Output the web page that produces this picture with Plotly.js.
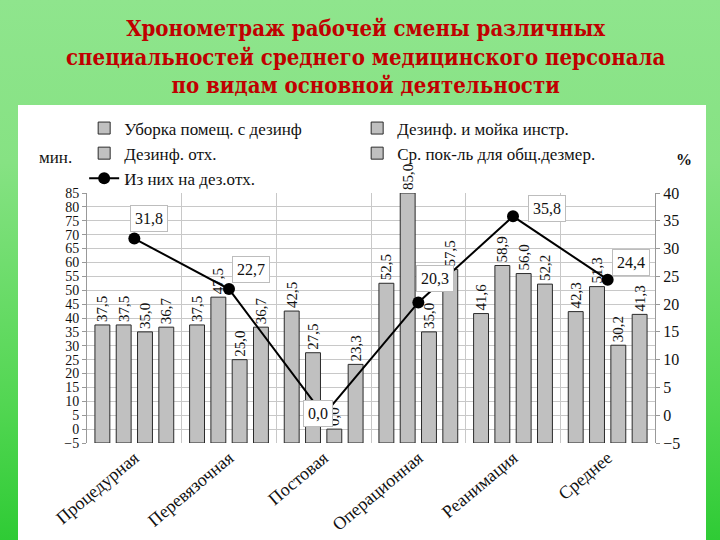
<!DOCTYPE html>
<html>
<head>
<meta charset="utf-8">
<script src="https://cdn.plot.ly/plotly-3.0.1.min.js"></script>
<style>
  html, body { margin: 0; padding: 0; width: 720px; height: 540px; overflow: hidden; }
  body { background: linear-gradient(to bottom, #8fe58d 0%, #86e283 30%, #52d652 75%, #2fcb35 100%); position: relative; }
  #panel { position: absolute; left: 18px; top: 105px; width: 688px; height: 435px; background: #fff; }
  #chart { position: absolute; left: 0; top: 0; width: 720px; height: 540px; }
</style>
</head>
<body>
<div id="panel"></div>
<div id="chart"></div>
<script>
var categories = ['Процедурная', 'Перевязочная', 'Постовая', 'Операционная', 'Реанимация', 'Среднее']
var seriesNames = ['Уборка помещ. с дезинф', 'Дезинф. и мойка инстр.', 'Дезинф. отх.', 'Ср. пок-ль для общ.дезмер.']
var uborka = [37.5, 37.5, 42.5, 52.5, 41.6, 42.3]
var moika = [37.5, 47.5, 27.5, 85.0, 58.9, 51.3]
var othody = [35.0, 25.0, 0.0, 35.0, 56.0, 30.2]
var srednee = [36.7, 36.7, 23.3, 57.5, 52.2, 41.3]
var lineName = 'Из них на дез.отх.'
var linePct = [31.8, 22.7, 0.0, 20.3, 35.8, 24.4]
var titleLines = ['Хронометраж рабочей смены различных', 'специальностей среднего медицинского персонала', 'по видам основной деятельности']

var serif = 'Liberation Serif, Times New Roman, serif'
var baseLine = -5   // bars in the original start from the bottom of the axis

function fmt(v) {
    return v.toFixed(1).replace('.', ',')
}

var data = []
var barSeries = [uborka, moika, othody, srednee]
barSeries.forEach(function (vals, i) {
    data.push({
        type: 'bar',
        name: seriesNames[i],
        x: categories,
        y: vals.map(function (v) { return v - baseLine }),
        base: baseLine,
        text: vals.map(fmt),
        textposition: 'outside',
        textangle: -90,
        constraintext: 'none',
        cliponaxis: false,
        outsidetextfont: {family: serif, size: 15, color: '#111'},
        marker: {color: '#c0c0c0', line: {color: '#2a2a2a', width: 1}}
    })
})

data.push({
    type: 'scatter',
    mode: 'lines+markers',
    name: lineName,
    x: categories,
    y: linePct,
    yaxis: 'y2',
    line: {color: '#000', width: 2},
    marker: {color: '#000', size: 12},
    cliponaxis: false
})

// boxed labels next to the line points
var shifts = [[15, 20], [22, 20], [-6, 2], [17, 24], [34, 8], [23, 17]]
var annotations = linePct.map(function (p, i) {
    return {
        x: categories[i], y: p, xref: 'x', yref: 'y2',
        text: fmt(p), showarrow: false,
        xshift: shifts[i][0], yshift: shifts[i][1],
        bgcolor: '#fff', bordercolor: '#bdbdbd', borderwidth: 1, borderpad: 4,
        font: {family: serif, size: 16, color: '#111'}
    }
})
annotations.push({
    xref: 'paper', yref: 'paper', x: -0.056, y: 1.144, xanchor: 'center', yanchor: 'middle',
    text: 'мин.', showarrow: false, font: {family: serif, size: 17, color: '#111'}
})
annotations.push({
    xref: 'paper', yref: 'paper', x: 1.051, y: 1.135, xanchor: 'center', yanchor: 'middle',
    text: '<b>%</b>', showarrow: false, font: {family: serif, size: 16, color: '#111'}
})
// title as one block so the lines stay tight
annotations.push({
    xref: 'paper', yref: 'paper', x: 0.49, y: 1.545, xanchor: 'center', yanchor: 'middle',
    text: '<b>' + titleLines.join('<br>') + '</b>', showarrow: false,
    font: {family: 'DejaVu Serif Condensed, Liberation Serif, serif', size: 22, color: '#c00000'}
})

var layout = {
    width: 720, height: 540,
    margin: {l: 87, r: 65, t: 193, b: 97, pad: 0},
    paper_bgcolor: 'rgba(0,0,0,0)',
    plot_bgcolor: 'rgba(0,0,0,0)',
    barmode: 'group',
    bargap: 0.1,
    bargroupgap: 0.3,
    showlegend: true,
    legend: {
        orientation: 'h', x: -0.005, xanchor: 'left', y: 1.33, yanchor: 'top',
        entrywidth: 228, entrywidthmode: 'pixels',
        font: {family: serif, size: 17, color: '#111'},
        bgcolor: 'rgba(0,0,0,0)', traceorder: 'normal'
    },
    xaxis: {
        type: 'category', tickson: 'boundaries', showgrid: true, gridcolor: '#c8c8c8',
        tickangle: -40, tickfont: {family: serif, size: 18, color: '#111'},
        ticks: '', showline: false, zeroline: false
    },
    yaxis: {
        range: [-5, 85], dtick: 5, tick0: -5, showgrid: true, gridcolor: '#c8c8c8',
        zeroline: false, showline: true, linecolor: '#999', ticks: 'outside', ticklen: 4,
        tickcolor: '#999', tickfont: {family: serif, size: 14, color: '#111'}
    },
    yaxis2: {
        range: [-5, 40], dtick: 5, tick0: -5, overlaying: 'y', side: 'right',
        showgrid: false, zeroline: false, showline: true, linecolor: '#999',
        ticks: 'outside', ticklen: 4, tickcolor: '#999',
        tickfont: {family: serif, size: 16, color: '#111'}
    },
    annotations: annotations
}

Plotly.newPlot('chart', data, layout, {displayModeBar: false, staticPlot: true})
</script>
</body>
</html>
